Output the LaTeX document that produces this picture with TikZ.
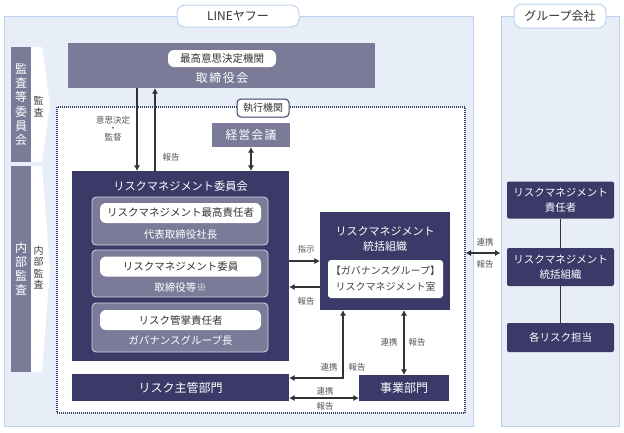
\documentclass[tikz,border=0pt]{standalone}
\usepackage{fontspec}
\setmainfont{Noto Sans CJK JP}
\usetikzlibrary{arrows.meta}
\definecolor{panelfill}{HTML}{E7EEF8}
\definecolor{panelline}{HTML}{BBD2EE}
\definecolor{grayfill}{HTML}{7B7A99}
\definecolor{navyfill}{HTML}{3A3968}
\definecolor{arrowgray}{HTML}{333333}
\definecolor{notegray}{HTML}{555555}
\begin{document}
\begin{tikzpicture}[
	x=1pt, y=-1pt,
	panel/.style={
		rectangle,
		draw=panelline,
		fill=panelfill,
		line width=1pt,
		inner sep=0pt
	},
	tab/.style={
		rectangle,
		rounded corners=8pt,
		draw=panelline,
		fill=white,
		line width=1pt,
		inner sep=0pt,
		text=black!80,
		font=\fontsize{12}{13}\selectfont
	},
	box/.style={
		rectangle,
		inner sep=0pt,
		align=center,
		text=white,
		font=\fontsize{10.5}{15}\selectfont
	},
	grayblock/.style={box, fill=grayfill},
	navyblock/.style={box, fill=navyfill},
	grpblock/.style={box, fill=navyfill, rounded corners=2pt, font=\fontsize{10.5}{15}\selectfont},
	member/.style={box, fill=grayfill, draw=white!70!grayfill, line width=0.8pt, rounded corners=4pt},
	pill/.style={rectangle, rounded corners=6pt, fill=white, inner sep=0pt, text=black!80, font=\fontsize{10.5}{12}\selectfont},
	whitebox/.style={rectangle, rounded corners=3pt, fill=white, inner sep=0pt, align=center, text=black!75, font=\fontsize{10}{16}\selectfont},
	boxtext/.style={inner sep=0pt, align=center, text=white, font=\fontsize{10.5}{15}\selectfont},
	bigtext/.style={font=\fontsize{12}{14}\selectfont},
	vtext/.style={font=\fontsize{12}{14.2}\selectfont},
	vnote/.style={inner sep=0pt, align=center, text=black!75, font=\fontsize{10}{11.4}\selectfont},
	execbox/.style={rectangle, draw=navyfill, fill=white, line width=1.2pt, dash pattern=on 1pt off 1pt, inner sep=0pt},
	exectab/.style={rectangle, rounded corners=4pt, draw=navyfill, fill=white, line width=1pt, inner sep=0pt, text=black!80, font=\fontsize{10}{12}\selectfont},
	arrow/.style={-{Latex[length=5.5pt,width=6.5pt]}, line width=1.4pt, draw=arrowgray},
	dblarrow/.style={{Latex[length=5.5pt,width=6.5pt]}-{Latex[length=5.5pt,width=6.5pt]}, line width=1.4pt, draw=arrowgray},
	note/.style={inner sep=0pt, align=center, text=notegray, font=\fontsize{8.5}{8.6}\selectfont}
]
\useasboundingbox (0,0) rectangle (624,432);

% Paneles de fondo
\node[panel, minimum width=469pt, minimum height=410pt] (linePanel) at (238.5,221) {};
\node[panel, minimum width=118pt, minimum height=410pt] (grpPanel) at (560,221) {};
\node[tab, minimum width=122pt, minimum height=22pt] (lineTab) at (238,16) {LINEヤフー};
\node[tab, minimum width=92pt, minimum height=24pt] (grpTab) at (560,16) {グループ会社};

%監査等委員会・内部監査
\node[grayblock, vtext, minimum width=20pt, minimum height=115pt] (auditCom) at (21,104.5) {監\\査\\等\\委\\員\\会};
\fill[white] (31,47) -- (42,47) -- (50,104.5) -- (42,162) -- (31,162) -- cycle;
\node[vnote] (auditNote) at (38.5,106.5) {監\\査};

\node[grayblock, vtext, minimum width=20pt, minimum height=206pt] (intAudit) at (21,269) {内\\部\\監\\査};
\fill[white] (31,166) -- (42,166) -- (50,269) -- (42,372) -- (31,372) -- cycle;
\node[vnote] (intAuditNote) at (38.5,267.5) {内\\部\\監\\査};

% 取締役会
\node[grayblock, minimum width=307pt, minimum height=45pt] (board) at (221.5,65.5) {};
\node[pill, minimum width=108pt, minimum height=17pt] (boardPill) at (222,58.5) {最高意思決定機関};
\node[boxtext, bigtext] (boardTxt) at (222,78) {取\kern1.5pt 締\kern1.5pt 役\kern1.5pt 会};

% 執行機関
\node[execbox, minimum width=408pt, minimum height=306pt] (exec) at (261,260) {};
\node[exectab, minimum width=52pt, minimum height=18pt] (execTab) at (263,108) {執行機関};
\node[grayblock, bigtext, minimum width=78pt, minimum height=24pt] (mgmt) at (251,135) {経\kern1pt 営\kern1pt 会\kern1pt 議};

% リスクマネジメント委員会
\node[navyblock, minimum width=217pt, minimum height=190pt] (rmc) at (180.5,266) {};
\node[boxtext, font=\fontsize{11.2}{13}\selectfont] (rmcTitle) at (180.5,186) {リスクマネジメント委員会};

\node[member, minimum width=176pt, minimum height=48pt] (mem1) at (180,221) {};
\node[pill, minimum width=161pt, minimum height=20pt] (pill1) at (180.5,213) {リスクマネジメント最高責任者};
\node[boxtext] (sub1) at (180.5,235) {代表取締役社長};

\node[member, minimum width=176pt, minimum height=47pt] (mem2) at (180,273.5) {};
\node[pill, minimum width=161pt, minimum height=20pt] (pill2) at (180.5,266.5) {リスクマネジメント委員};
\node[boxtext] (sub2) at (180.5,287) {取締役等※};

\node[member, minimum width=176pt, minimum height=49pt] (mem3) at (180,327.5) {};
\node[pill, minimum width=161pt, minimum height=20pt] (pill3) at (180.5,320) {リスク管掌責任者};
\node[boxtext] (sub3) at (180.5,341) {ガバナンスグループ長};

% リスク主管部門・事業部門
\node[navyblock, bigtext, minimum width=217pt, minimum height=27pt] (riskDept) at (180.5,387.5) {リスク主管部門};
\node[navyblock, bigtext, minimum width=90pt, minimum height=26pt] (bizDept) at (404,388) {事業部門};

% リスクマネジメント統括組織
\node[navyblock, minimum width=130pt, minimum height=98pt] (rmo) at (385,261) {};
\node[boxtext, font=\fontsize{11}{15}\selectfont] (rmoTitle) at (385,239.5) {リスクマネジメント\\統括組織};
\node[whitebox, minimum width=115pt, minimum height=38pt] (rmoOffice) at (385.5,279) {【ガバナンスグループ】\\リスクマネジメント室};

% グループ会社
\node[grpblock, minimum width=107pt, minimum height=37pt] (grpChief) at (560.5,200) {リスクマネジメント\\責任者};
\node[grpblock, minimum width=107pt, minimum height=38pt] (grpRmo) at (560.5,267) {リスクマネジメント\\統括組織};
\node[grpblock, minimum width=107pt, minimum height=29pt] (grpStaff) at (560.5,337.5) {各リスク担当};

% 矢印
\draw[arrow] (137,0 |- board.south) -- (137,0 |- rmc.north);
\draw[arrow] (155,0 |- rmc.north) -- (155,0 |- board.south);
\draw[dblarrow] (mgmt.south) -- (mgmt.south |- rmc.north);
\draw[arrow] (rmc.east |- 0,261) -- (rmo.west |- 0,261);
\draw[arrow] (rmo.west |- 0,287) -- (rmc.east |- 0,287);
\draw[dblarrow] (riskDept.east |- 0,378) -| (343,0 |- rmo.south);
\draw[dblarrow] (bizDept.north |- rmo.south) -- (bizDept.north);
\draw[dblarrow] (riskDept.east |- 0,398) -- (bizDept.west |- 0,398);
\draw[dblarrow] (exec.east |- 0,253) -- (grpPanel.west |- 0,253);
\draw[line width=1.4pt, arrowgray] (grpChief.south) -- (grpRmo.north);
\draw[line width=1.4pt, arrowgray] (grpRmo.south) -- (grpStaff.north);

% ラベル
\node[note] (decideNote) at (113,128.5) {意思決定\\・\\監督};
\node[note] (reportNote) at (171,157) {報告};
\node[note] (orderNote) at (306,249) {指示};
\node[note] (rmoReport) at (306,301) {報告};
\node[note] (grpLink) at (485,242) {連携};
\node[note] (grpReport) at (485,264) {報告};
\node[note] (riskLink) at (329,367) {連携};
\node[note] (riskReport) at (357,367) {報告};
\node[note] (bizLink) at (389,342) {連携};
\node[note] (bizReport) at (417,342) {報告};
\node[note] (deptLink) at (325,391) {連携};
\node[note] (deptReport) at (325,406) {報告};

\end{tikzpicture}
\end{document}
